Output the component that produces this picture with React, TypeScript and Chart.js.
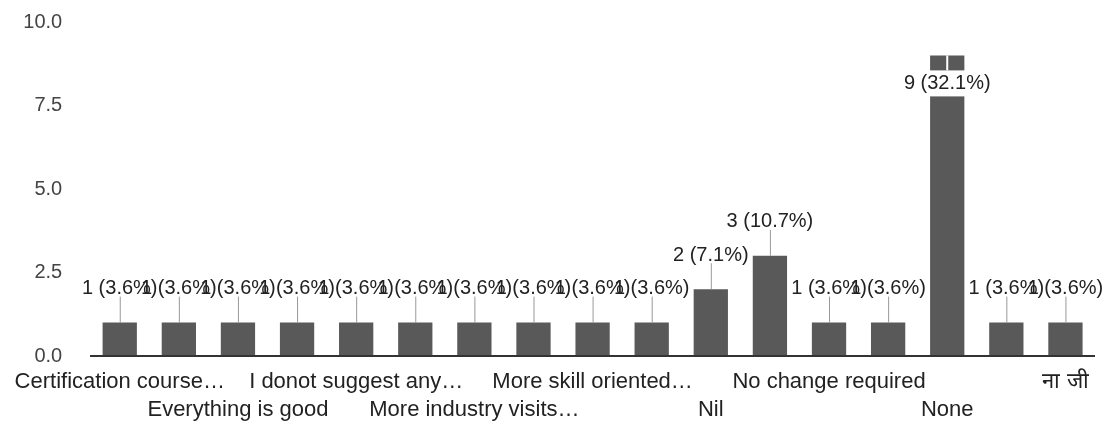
import React, { useEffect, useRef } from "react";
import { Chart, registerables } from "chart.js";

Chart.register(...registerables);

const categories = [
  "Certification course…",
  "Everything is fine",
  "Everything is good",
  "Good",
  "I donot suggest any…",
  "Industrial training…",
  "More industry visits…",
  "More practical…",
  "More skill oriented…",
  "Nice",
  "Nil",
  "No",
  "No change required",
  "No suggestion",
  "None",
  "Nothing",
  "ना जी",
];

const counts = [1, 1, 1, 1, 1, 1, 1, 1, 1, 1, 2, 3, 1, 1, 9, 1, 1];

const yTicks = [0, 2.5, 5, 7.5, 10];

const FONT = "'Liberation Sans', Arial, sans-serif";
const FS = 20;
const XFS = 22;

const annotationPlugin = {
  id: "barAnnotations",
  afterDatasetsDraw(chart: any) {
    const ctx = chart.ctx;
    const meta = chart.getDatasetMeta(0);
    const data = chart.data.datasets[0].data as number[];
    const total = data.reduce((a, b) => a + b, 0);
    const area = chart.chartArea;
    ctx.save();
    ctx.font = `${FS}px ${FONT}`;
    ctx.textAlign = "center";
    ctx.textBaseline = "middle";
    meta.data.forEach((bar: any, i: number) => {
      const v = data[i];
      const text = `${v} (${((v / total) * 100).toFixed(1)}%)`;
      const x = bar.x;
      const top = bar.y;
      if (top - 45 < area.top) {
        const cy = top + 28;
        const w = ctx.measureText(text).width;
        ctx.fillStyle = "#ffffff";
        ctx.fillRect(x - w / 2 - 2, cy - 13, w + 4, 26);
        ctx.strokeStyle = "#ffffff";
        ctx.lineWidth = 2;
        ctx.beginPath();
        ctx.moveTo(x, top);
        ctx.lineTo(x, cy - 13);
        ctx.stroke();
        ctx.fillStyle = "#222222";
        ctx.fillText(text, x, cy);
      } else {
        const cy = top - 34;
        ctx.strokeStyle = "#999999";
        ctx.lineWidth = 1;
        ctx.beginPath();
        ctx.moveTo(x + 0.5, top);
        ctx.lineTo(x + 0.5, cy + 8);
        ctx.stroke();
        ctx.fillStyle = "#222222";
        ctx.fillText(text, x, cy);
      }
    });
    ctx.restore();
  },
};

export default function App() {
  const canvasRef = useRef<HTMLCanvasElement | null>(null);

  useEffect(() => {
    document.body.style.margin = "0";
    const canvas = canvasRef.current;
    if (!canvas) return;
    const chart = new Chart(canvas, {
      type: "bar",
      data: {
        labels: categories,
        datasets: [
          {
            data: counts,
            backgroundColor: "#595959",
            borderWidth: 0,
            barPercentage: 0.58,
            categoryPercentage: 1,
          },
        ],
      },
      options: {
        animation: false,
        responsive: false,
        maintainAspectRatio: false,
        layout: { padding: { top: 22, right: 12, left: 0, bottom: 0 } },
        plugins: {
          legend: { display: false },
          tooltip: { enabled: false },
          title: { display: false },
        },
        scales: {
          x: {
            grid: { display: false, drawTicks: false },
            border: { display: false },
            afterFit: (axis: any) => {
              axis.height = 68;
            },
            ticks: {
              autoSkip: false,
              maxRotation: 0,
              minRotation: 0,
              padding: 12,
              color: "#222222",
              font: { family: FONT, size: XFS, lineHeight: 28 / XFS },
              callback: (_v: any, index: number) => {
                if (index % 2 === 1) return "";
                const label = categories[index];
                return index % 4 === 0 ? label : ["", label];
              },
            },
          },
          y: {
            min: 0,
            max: 10,
            afterBuildTicks: (axis: any) => {
              axis.ticks = yTicks.map((v) => ({ value: v }));
            },
            afterFit: (axis: any) => {
              axis.width = 88;
            },
            grid: {
              drawTicks: true,
              tickLength: 28,
              tickColor: "transparent",
              color: (c: any) => (c.tick && c.tick.value === 0 ? "#333333" : "transparent"),
              lineWidth: (c: any) => (c.tick && c.tick.value === 0 ? 2 : 0),
            },
            border: { display: false },
            ticks: {
              padding: 0,
              color: "#444444",
              font: { family: FONT, size: FS },
              callback: (v: any) => Number(v).toFixed(1),
            },
          },
        },
      },
      plugins: [annotationPlugin],
    });
    return () => chart.destroy();
  }, []);

  return (
    <div style={{ width: 1107, height: 424, background: "#fff" }}>
      <canvas ref={canvasRef} width={1107} height={424} style={{ display: "block" }} />
    </div>
  );
}
